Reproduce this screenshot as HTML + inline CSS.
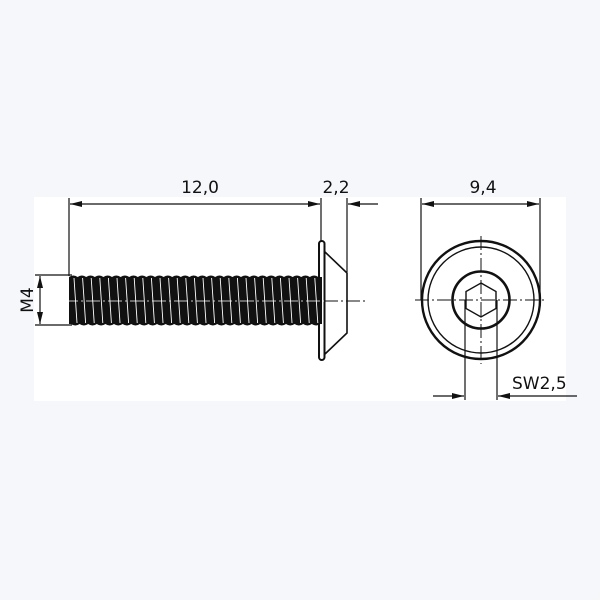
<!DOCTYPE html>
<html><head><style>
html,body{margin:0;padding:0;background:#f5f7fa;}
svg{display:block}
text{font-family:"DejaVu Sans","Liberation Sans",sans-serif;font-size:17px;fill:#111}
</style></head><body>
<svg width="600" height="600" viewBox="0 0 600 600" xmlns="http://www.w3.org/2000/svg">
<defs>
<marker id="a" viewBox="0 0 12 6" refX="12" refY="3" markerWidth="12" markerHeight="6" markerUnits="userSpaceOnUse" orient="auto-start-reverse"><path d="M0,0L12,3L0,6z" fill="#111"/></marker>
</defs>
<rect x="34" y="197" width="532" height="204" fill="#fff"/>
<g stroke="#111" fill="none" stroke-width="1.2">
<!-- left view dims -->
<line x1="69" y1="198" x2="69" y2="276"/>
<line x1="321" y1="198" x2="321" y2="242"/>
<line x1="347" y1="198" x2="347" y2="272"/>
<line x1="70" y1="204" x2="320" y2="204" marker-start="url(#a)" marker-end="url(#a)"/>
<line x1="378" y1="204" x2="348" y2="204" marker-end="url(#a)"/>
<line x1="35" y1="275" x2="72" y2="275"/>
<line x1="35" y1="325" x2="72" y2="325"/>
<line x1="40" y1="276" x2="40" y2="324" marker-start="url(#a)" marker-end="url(#a)"/>
<!-- head -->
<rect x="319" y="241" width="5.5" height="119" rx="2.7" stroke-width="2"/>
<path d="M325,252L347,273L347,333L325,354" stroke-width="1.6"/>
</g>
<!-- thread -->
<rect x="69" y="277" width="253" height="47" fill="#111"/>
<g fill="#111">
<script></script>
</g>
<g id="th"></g>
<g stroke="#fff" stroke-width="0.9">
<path d="M74,278l3,45M82.6,278l3,45M91.2,278l3,45M99.8,278l3,45M108.4,278l3,45M117,278l3,45M125.6,278l3,45M134.2,278l3,45M142.8,278l3,45M151.4,278l3,45M160,278l3,45M168.6,278l3,45M177.2,278l3,45M185.8,278l3,45M194.4,278l3,45M203,278l3,45M211.6,278l3,45M220.2,278l3,45M228.8,278l3,45M237.4,278l3,45M246,278l3,45M254.6,278l3,45M263.2,278l3,45M271.8,278l3,45M280.4,278l3,45M289,278l3,45M297.6,278l3,45M306.2,278l3,45M314.8,278l3,45"/>
</g>
<g fill="#111">
<path d="M69,277 q4.3,-3 8.6,0 q4.3,-3 8.6,0 q4.3,-3 8.6,0 q4.3,-3 8.6,0 q4.3,-3 8.6,0 q4.3,-3 8.6,0 q4.3,-3 8.6,0 q4.3,-3 8.6,0 q4.3,-3 8.6,0 q4.3,-3 8.6,0 q4.3,-3 8.6,0 q4.3,-3 8.6,0 q4.3,-3 8.6,0 q4.3,-3 8.6,0 q4.3,-3 8.6,0 q4.3,-3 8.6,0 q4.3,-3 8.6,0 q4.3,-3 8.6,0 q4.3,-3 8.6,0 q4.3,-3 8.6,0 q4.3,-3 8.6,0 q4.3,-3 8.6,0 q4.3,-3 8.6,0 q4.3,-3 8.6,0 q4.3,-3 8.6,0 q4.3,-3 8.6,0 q4.3,-3 8.6,0 q4.3,-3 8.6,0 q4.3,-3 8.6,0 L322,278 L69,278z"/>
<path d="M71,324 q4.3,3 8.6,0 q4.3,3 8.6,0 q4.3,3 8.6,0 q4.3,3 8.6,0 q4.3,3 8.6,0 q4.3,3 8.6,0 q4.3,3 8.6,0 q4.3,3 8.6,0 q4.3,3 8.6,0 q4.3,3 8.6,0 q4.3,3 8.6,0 q4.3,3 8.6,0 q4.3,3 8.6,0 q4.3,3 8.6,0 q4.3,3 8.6,0 q4.3,3 8.6,0 q4.3,3 8.6,0 q4.3,3 8.6,0 q4.3,3 8.6,0 q4.3,3 8.6,0 q4.3,3 8.6,0 q4.3,3 8.6,0 q4.3,3 8.6,0 q4.3,3 8.6,0 q4.3,3 8.6,0 q4.3,3 8.6,0 q4.3,3 8.6,0 q4.3,3 8.6,0 q4.3,3 8.6,0 L318,323 L71,323z"/>
</g>
<line x1="64" y1="301" x2="360" y2="301" stroke="#fff" stroke-width="0.8" stroke-dasharray="14,3,2,3"/>
<line x1="324" y1="301" x2="365" y2="301" stroke="#111" stroke-width="1" stroke-dasharray="14,3,2,3"/>
<!-- right view -->
<g stroke="#111" fill="none">
<circle cx="481" cy="300" r="59" stroke-width="2.4"/>
<circle cx="481" cy="300" r="53" stroke-width="1.4"/>
<circle cx="481" cy="300" r="28.5" stroke-width="2.6"/>
<path d="M481,283L496,291.5L496,308.5L481,317L466,308.5L466,291.5z" stroke-width="1.4"/>
<line x1="415" y1="300" x2="547" y2="300" stroke-width="1" stroke-dasharray="14,3,2,3"/>
<line x1="481" y1="236" x2="481" y2="364" stroke-width="1" stroke-dasharray="14,3,2,3"/>
<g stroke-width="1.2">
<line x1="421" y1="198" x2="421" y2="300"/>
<line x1="540" y1="198" x2="540" y2="300"/>
<line x1="422" y1="204" x2="539" y2="204" marker-start="url(#a)" marker-end="url(#a)"/>
<line x1="465" y1="300" x2="465" y2="400"/>
<line x1="497" y1="300" x2="497" y2="400"/>
<line x1="433" y1="396" x2="464" y2="396" marker-end="url(#a)"/>
<line x1="577" y1="396" x2="498" y2="396" marker-end="url(#a)"/>
</g>
</g>
<text x="200" y="193" text-anchor="middle">12,0</text>
<text x="336" y="193" text-anchor="middle">2,2</text>
<text x="483" y="193" text-anchor="middle">9,4</text>
<text x="512" y="389">SW2,5</text>
<text transform="translate(33,300) rotate(-90)" text-anchor="middle">M4</text>
</svg>
</body></html>
